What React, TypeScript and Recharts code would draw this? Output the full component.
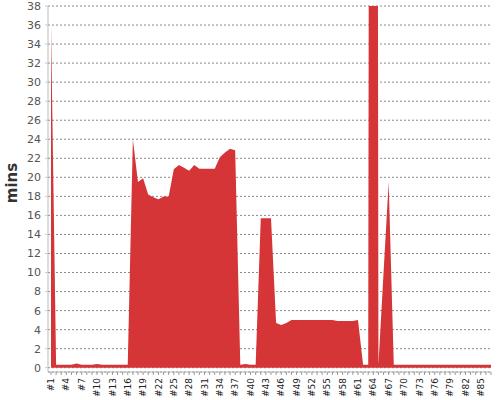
import { AreaChart, Area, XAxis, YAxis, CartesianGrid, Label } from "recharts";

// ── Data ────────────────────────────────────────────────────────────────────

const RUNS = [
  "#1", "#2", "#3", "#4", "#5", "#6", "#7", "#8", "#9", "#10",
  "#11", "#12", "#13", "#14", "#15", "#16", "#17", "#18", "#19", "#20",
  "#21", "#22", "#23", "#24", "#25", "#26", "#27", "#28", "#29", "#30",
  "#31", "#32", "#33", "#34", "#35", "#36", "#37", "#38", "#39", "#40",
  "#41", "#42", "#43", "#44", "#45", "#46", "#47", "#48", "#49", "#50",
  "#51", "#52", "#53", "#54", "#55", "#56", "#57", "#58", "#59", "#60",
  "#61", "#62", "#63", "#64", "#65", "#66", "#67", "#68", "#69", "#70",
  "#71", "#72", "#73", "#74", "#75", "#76", "#77", "#78", "#79", "#80",
  "#81", "#82", "#83", "#84", "#85", "#86", "#87",
];

// duration in minutes; #64 runs far off the top of the chart
const MINUTES = [
  36, 0.3, 0.3, 0.3, 0.3, 0.45, 0.3, 0.3, 0.3, 0.4,
  0.3, 0.3, 0.3, 0.3, 0.3, 0.3, 24, 19.5, 19.9, 18.2,
  17.9, 17.7, 18.0, 18.0, 20.85, 21.3, 21.0, 20.7, 21.3, 20.9,
  20.9, 20.9, 20.9, 22.1, 22.6, 23.0, 22.85, 0.3, 0.4, 0.3,
  0.3, 15.7, 15.7, 15.7, 4.7, 4.5, 4.7, 5.0, 5.0, 5.0,
  5.0, 5.0, 5.0, 5.0, 5.0, 5.0, 4.9, 4.9, 4.9, 4.9,
  5.0, 0.3, 0.3, 400, 0.3, 10, 19.5, 0.3, 0.3, 0.3,
  0.3, 0.3, 0.3, 0.3, 0.3, 0.3, 0.3, 0.3, 0.3, 0.3,
  0.3, 0.3, 0.3, 0.3, 0.3, 0.3, 0.3,
];

const Y_TICKS = [0, 2, 4, 6, 8, 10, 12, 14, 16, 18, 20, 22, 24, 26, 28, 30, 32, 34, 36, 38];

const data = RUNS.map((run, i) => ({ run, mins: MINUTES[i] }));

const RED = "#d63538";
const FONT = "DejaVu Sans, sans-serif";

// ── Ticks ───────────────────────────────────────────────────────────────────

// every category gets a tick mark, but only every third one a label
function RunTick(props: any) {
  const { x, y, payload } = props;
  if (RUNS.indexOf(payload.value) % 3 !== 0) return <g />;
  return (
    <text
      x={x}
      y={y}
      dy="0.35em"
      transform={`rotate(-90, ${x}, ${y})`}
      textAnchor="end"
      fontSize={9}
      fontFamily={FONT}
      fill="#222"
    >
      {payload.value}
    </text>
  );
}

function MinsLabel(props: any) {
  const vb = props.viewBox;
  const x = vb.x + 17;
  const y = vb.y + vb.height / 2 - 6;
  return (
    <text
      x={x}
      y={y}
      transform={`rotate(-90, ${x}, ${y})`}
      textAnchor="middle"
      fontSize={15}
      fontWeight="bold"
      fontFamily={FONT}
      fill="#333"
    >
      mins
    </text>
  );
}

// ── Component ───────────────────────────────────────────────────────────────

export default function App() {
  return (
    <div style={{ position: "absolute", left: 0, top: 0, width: 500, height: 400, background: "#fff" }}>
      <AreaChart width={500} height={400} data={data} margin={{ top: 6, right: 9, bottom: 0, left: 0 }}>
        <CartesianGrid vertical={false} stroke="#8a8a8a" strokeDasharray="2 2" />
        <XAxis
          dataKey="run"
          interval={0}
          height={28}
          padding={{ left: 3, right: 0 }}
          axisLine={{ stroke: "#bbb" }}
          tickLine={{ stroke: "#999" }}
          tickSize={3}
          tickMargin={3}
          tick={<RunTick />}
        />
        <YAxis
          width={48}
          domain={[-0.45, 38]}
          allowDataOverflow
          ticks={Y_TICKS}
          interval={0}
          axisLine={{ stroke: "#bbb" }}
          tickLine={{ stroke: "#ccc" }}
          tickSize={3}
          tickMargin={4}
          tick={{ fontSize: 11, fill: "#555", fontFamily: FONT }}
        >
          <Label content={<MinsLabel />} />
        </YAxis>
        <Area
          type="linear"
          dataKey="mins"
          stroke="none"
          fill={RED}
          fillOpacity={1}
          dot={false}
          activeDot={false}
          isAnimationActive={false}
        />
      </AreaChart>
    </div>
  );
}
